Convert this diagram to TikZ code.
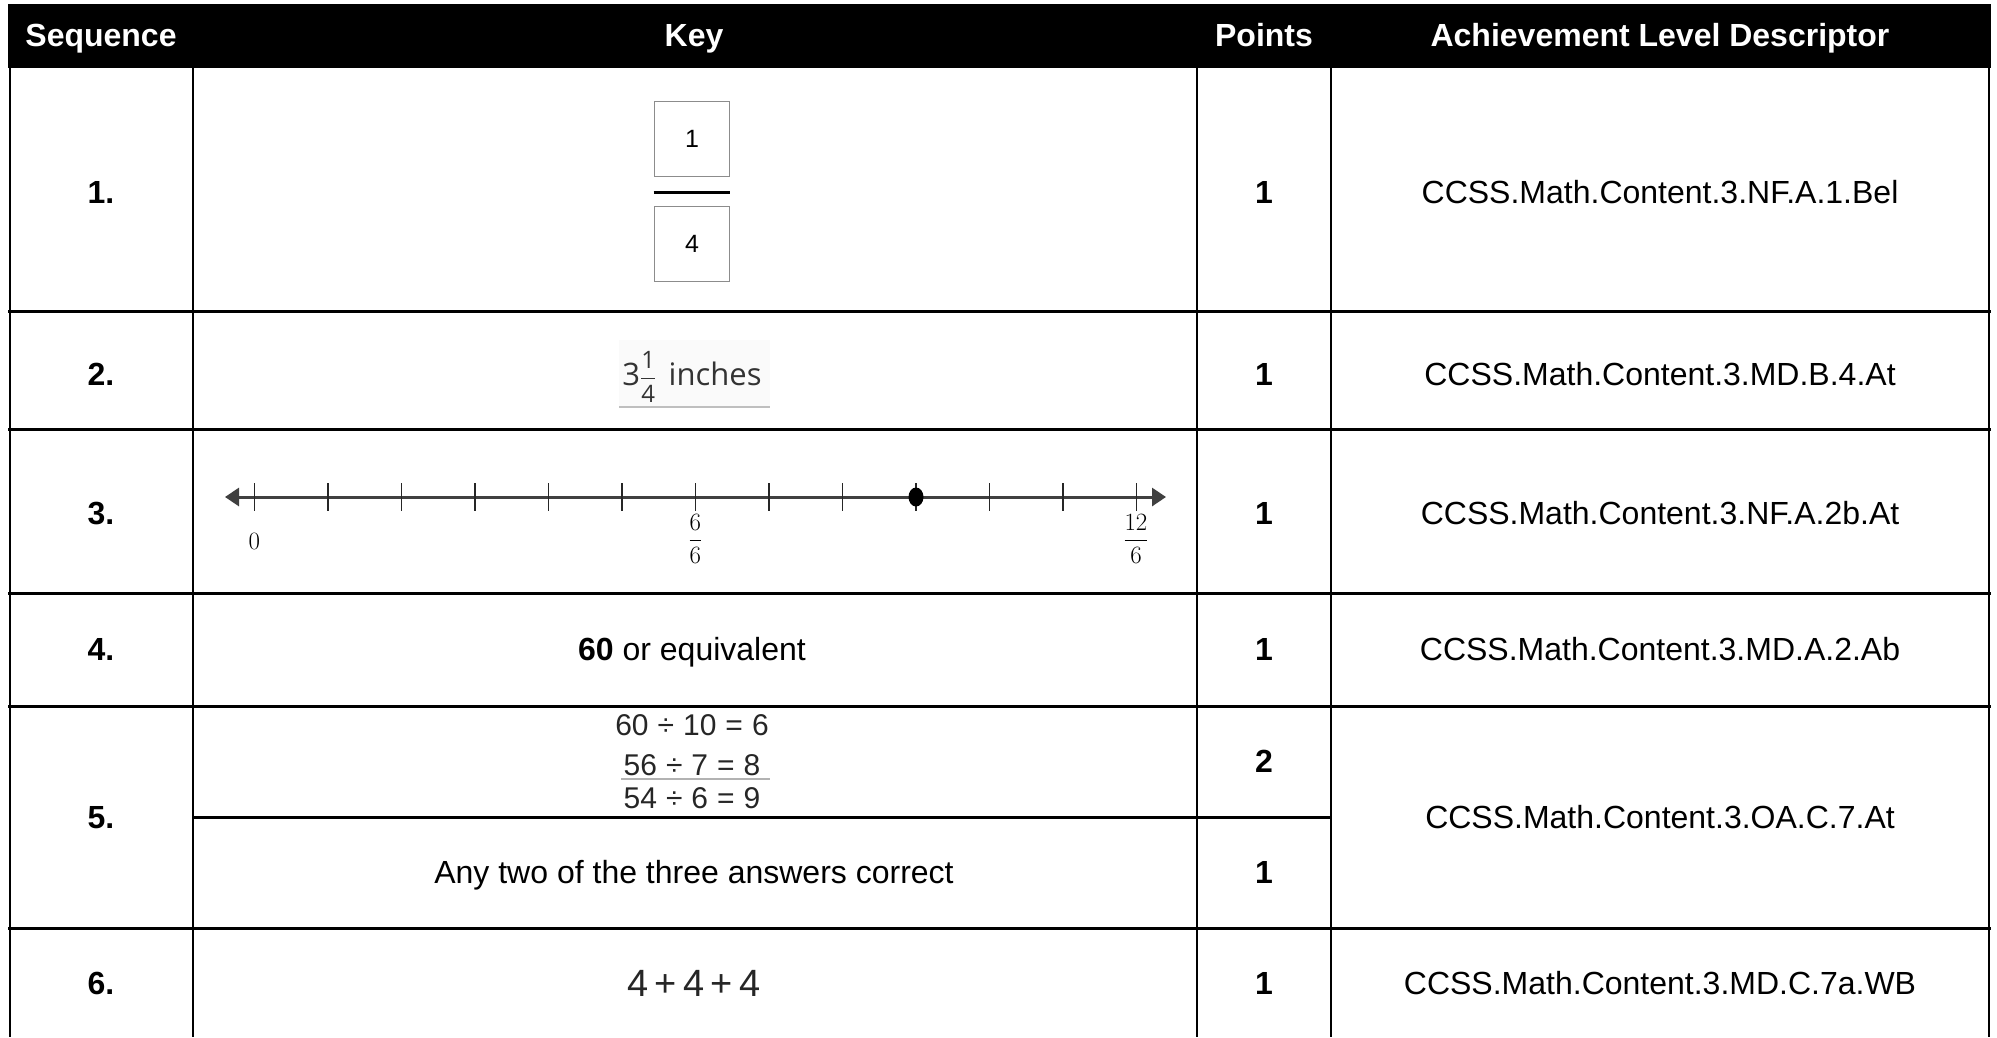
\documentclass[tikz,border=0pt]{standalone}
\usepackage{fontspec}
\usepackage{amsmath}
\setmainfont{Liberation Sans}
\newfontfamily\inchesfont{Open Sans}
\usetikzlibrary{arrows.meta,shapes.geometric}
\newcommand{\eqsp}{\hspace{0.3em}}
\newcommand{\fracdigit}[1]{\text{\fontsize{24}{26}\selectfont #1}}

\begin{document}
\begin{tikzpicture}
[x=1pt,y=-1pt,
  headdecorate/.style={text=white,font=\fontsize{32}{38}\selectfont\bfseries,
    text height=23pt,text depth=0pt},
  celldecorate/.style={font=\fontsize{32}{38}\selectfont,text height=23pt,text depth=0pt},
  boldcelldecorate/.style={celldecorate,font=\fontsize{32}{38}\selectfont\bfseries},
  hlinedecorate/.style={line width=3pt},
  vlinedecorate/.style={line width=2pt},
  boxdecorate/.style={shape=rectangle,draw=black!45,line width=1.6pt,minimum size=75pt,
    inner sep=0pt,font=\fontsize{25}{28}\selectfont},
  tickdecorate/.style={draw=black!85,line width=1.8pt},
  nllabeldecorate/.style={font=\fontsize{23}{26}\selectfont},
  eqdecorate/.style={text=black!85,font=\fontsize{30}{34}\selectfont,
    text height=21pt,text depth=0pt}]
\useasboundingbox (0,0) rectangle (1997,1037);
%% header band
\fill (8,4) rectangle (1991,66);
\foreach \nodename/\x/\heading in {hseq/101/Sequence, hkey/694/Key,
  hpts/1264/Points, hald/1660/Achievement Level Descriptor}
{
  \node (\nodename) at (\x,35) [headdecorate] {\heading};
}
%% rules of the table
\foreach \y in {66,311,429,593,706,928}
{
  \draw[hlinedecorate] (8,\y) -- (1991,\y);
}
\draw[hlinedecorate] (193,817) -- (1331,817);
\foreach \x in {10,193,1197,1331,1989}
{
  \draw[vlinedecorate] (\x,66) -- (\x,1037);
}
%% sequence, points and descriptor columns
\foreach \nodename/\y/\seqno in {seq1/192/1., seq2/374/2., seq3/513/3.,
  seq4/649/4., seq5/817/5., seq6/983/6.}
{
  \node (\nodename) at (101,\y) [boldcelldecorate] {\seqno};
}
\foreach \nodename/\y/\pts in {pts1/192/1, pts2/374/1, pts3/513/1,
  pts4/649/1, pts5a/761/2, pts5b/872/1, pts6/983/1}
{
  \node (\nodename) at (1264,\y) [boldcelldecorate] {\pts};
}
\foreach \nodename/\y/\code in {ald1/192/CCSS.Math.Content.3.NF.A.1.Bel,
  ald2/374/CCSS.Math.Content.3.MD.B.4.At, ald3/513/CCSS.Math.Content.3.NF.A.2b.At,
  ald4/649/CCSS.Math.Content.3.MD.A.2.Ab, ald5/817/CCSS.Math.Content.3.OA.C.7.At,
  ald6/983/CCSS.Math.Content.3.MD.C.7a.WB}
{
  \node (\nodename) at (1660,\y) [celldecorate] {\code};
}
%% key 1: fraction boxes
\node (numbox) at (692,139) [boxdecorate] {1};
\node (denbox) at (692,244) [boxdecorate] {4};
\draw[line width=3pt] ([yshift=-15pt]numbox.south west) -- ([yshift=-15pt]numbox.south east);
%% key 2: mixed number
\fill[black!2] (619,340) rectangle (770,407);
\draw[black!25,line width=1.5pt] (619,407) -- (770,407);
\node (inches) at (692,385) [anchor=base,inner sep=0pt,text=black!80,
  font=\inchesfont\fontsize{31}{36}\selectfont]
  {3$\dfrac{\fracdigit{1}}{\fracdigit{4}}$\hspace{0.4em}inches};
%% key 3: number line
\coordinate (nlstart) at (225,497);
\coordinate (nlend) at (1166,497);
\draw[{Triangle[length=14pt,width=18pt]}-{Triangle[length=14pt,width=18pt]},
  line width=3pt,draw=black!75,fill=black] (nlstart) -- (nlend);
\foreach \i in {0,...,12}
{
  \draw[tickdecorate] ({254.4+73.5*\i},483) -- ({254.4+73.5*\i},511);
}
\node (nldot) at (916,497) [shape=ellipse,fill,inner sep=0pt,minimum width=15pt,minimum height=19pt] {};
\node (nlzero) at (254.4,541) [nllabeldecorate] {$0$};
\node (nlsix) at (695.4,539) [nllabeldecorate] {$\dfrac{6}{6}$};
\node (nltwelve) at (1136,539) [nllabeldecorate] {$\dfrac{12}{6}$};
%% key 4
\node (key4) at (692,649) [celldecorate] {\textbf{60} or equivalent};
%% key 5: quotients
\foreach \nodename/\y/\eq in {eqone/725/60\eqsp÷\eqsp10\eqsp=\eqsp6,
  eqtwo/765/56\eqsp÷\eqsp7\eqsp=\eqsp8, eqthree/798/54\eqsp÷\eqsp6\eqsp=\eqsp9}
{
  \node (\nodename) at (692,\y) [eqdecorate] {\eq};
}
\draw[black!30,line width=1.5pt] (621,779) -- (770,779);
\node (key5b) at (694,872) [celldecorate] {Any two of the three answers correct};
%% key 6
\node (key6) at (694,983) [text=black!85,font=\fontsize{38}{44}\selectfont,
  text height=27pt,text depth=0pt] {4\,+\,4\,+\,4};
\end{tikzpicture}
\end{document}
